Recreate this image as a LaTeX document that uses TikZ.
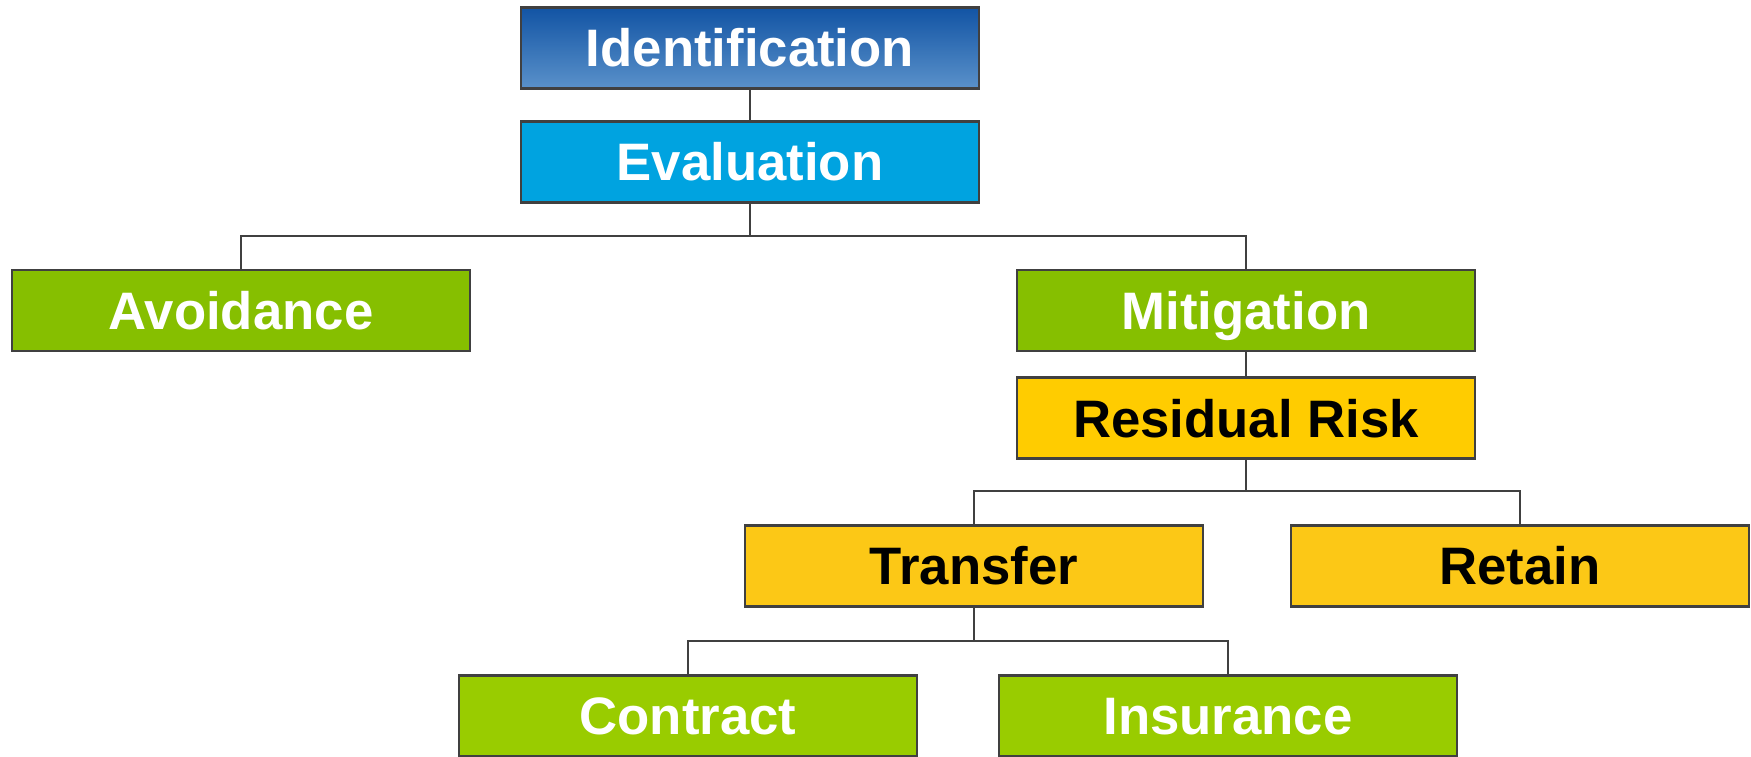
\documentclass[tikz,border=0pt]{standalone}
\usepackage{fontspec}
\setmainfont{Liberation Sans}
\usetikzlibrary{positioning}

\definecolor{idtop}{RGB}{18,84,164}
\definecolor{idbot}{RGB}{90,145,202}
\definecolor{evalblue}{RGB}{0,163,224}
\definecolor{leafgreen}{RGB}{134,191,0}
\definecolor{lowgreen}{RGB}{153,204,0}
\definecolor{resyellow}{RGB}{255,204,0}
\definecolor{subyellow}{RGB}{252,200,22}
\definecolor{rimgray}{RGB}{64,64,64}

\begin{document}
\begin{tikzpicture}[every node/.style={font=\fontsize{15}{18}\selectfont\bfseries},
  stage/.style={draw=rimgray, line width=0.8pt, rectangle, minimum width=4.58cm, minimum height=0.81cm, inner sep=0pt, text height=10.8pt, text depth=0pt},
  link/.style={draw=rimgray, line width=0.6pt}]
  \useasboundingbox (0,0) rectangle (17.51,-7.57);
  % Nodes
  \node[stage, top color=idtop, bottom color=idbot, text=white] (ident) at (7.50,-0.48) {Identification};
  \node[stage, fill=evalblue, text=white, below=0.30cm of ident] (eval) {Evaluation};
  \node[stage, fill=leafgreen, text=white] (avoid) at (2.41,-3.105) {Avoidance};
  \node[stage, fill=leafgreen, text=white] (mitig) at (12.46,-3.105) {Mitigation};
  \node[stage, fill=resyellow, text=black, below=0.24cm of mitig] (resid) {Residual Risk};
  \node[stage, fill=subyellow, text=black] (transfer) at (9.74,-5.66) {Transfer};
  \node[stage, fill=subyellow, text=black] (retain) at (15.20,-5.66) {Retain};
  \node[stage, fill=lowgreen, text=white] (contract) at (6.88,-7.16) {Contract};
  \node[stage, fill=lowgreen, text=white] (insur) at (12.28,-7.16) {Insurance};
  % Edges
  \draw[link] (ident) -- (eval);
  \draw[link] (eval.south) -- ++(0,-0.32) -| (avoid.north);
  \draw[link] (eval.south) -- ++(0,-0.32) -| (mitig.north);
  \draw[link] (mitig) -- (resid);
  \draw[link] (resid.south) -- ++(0,-0.31) -| (transfer.north);
  \draw[link] (resid.south) -- ++(0,-0.31) -| (retain.north);
  \draw[link] (transfer.south) -- ++(0,-0.33) -| (contract.north);
  \draw[link] (transfer.south) -- ++(0,-0.33) -| (insur.north);
\end{tikzpicture}
\end{document}
